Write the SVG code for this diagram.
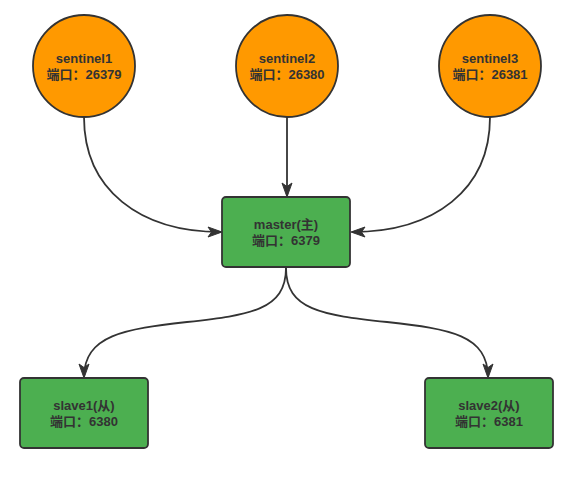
<svg xmlns="http://www.w3.org/2000/svg" width="584" height="479" viewBox="0 0 584 479">
<defs>
<style>
.s{fill:#ff9900;stroke:#333;stroke-width:1.8}
.b{fill:#4caf50;stroke:#333;stroke-width:1.8}
text{font-family:"Liberation Sans","Noto Sans CJK SC",sans-serif;font-size:13px;font-weight:bold;fill:#333;text-anchor:middle}
.e{fill:none;stroke:#333;stroke-width:1.8}
</style>
<marker id="a" viewBox="0 0 14 11" refX="13" refY="5.5" markerWidth="14" markerHeight="11" markerUnits="userSpaceOnUse" orient="auto" overflow="visible">
<path d="M0 0.5L14 5.5L0 10.5L3.5 5.5Z" fill="#333" stroke="#333" stroke-width="1"/>
</marker>
</defs>
<g id="edges">
<path class="e" d="M84 117C84 190 140 232 221 232" marker-end="url(#a)"/>
<path class="e" d="M287 117L287 196" marker-end="url(#a)"/>
<path class="e" d="M490 117C490 190 434 232 352 232" marker-end="url(#a)"/>
<path class="e" d="M286 268C286 310 250 315 187 322C125 329 84 335 84 377" marker-end="url(#a)"/>
<path class="e" d="M286 268C286 310 322 315 387 322C450 329 488 335 488 377" marker-end="url(#a)"/>
</g>
<g id="sentinel1"><circle class="s" cx="84" cy="66" r="51"/><text x="84" y="63">sentinel1</text><text x="84" y="79">端口：26379</text></g>
<g id="sentinel2"><circle class="s" cx="287" cy="66" r="51"/><text x="287" y="63">sentinel2</text><text x="287" y="79">端口：26380</text></g>
<g id="sentinel3"><circle class="s" cx="490" cy="66" r="51"/><text x="490" y="63">sentinel3</text><text x="490" y="79">端口：26381</text></g>
<g id="master"><rect class="b" x="222" y="197" width="128" height="70" rx="4"/><text x="286" y="229">master(主)</text><text x="286" y="245">端口：6379</text></g>
<g id="slave1"><rect class="b" x="20" y="378" width="128" height="70" rx="4"/><text x="84" y="410">slave1(从)</text><text x="84" y="426">端口：6380</text></g>
<g id="slave2"><rect class="b" x="425" y="378" width="128" height="70" rx="4"/><text x="489" y="410">slave2(从)</text><text x="489" y="426">端口：6381</text></g>
</svg>
